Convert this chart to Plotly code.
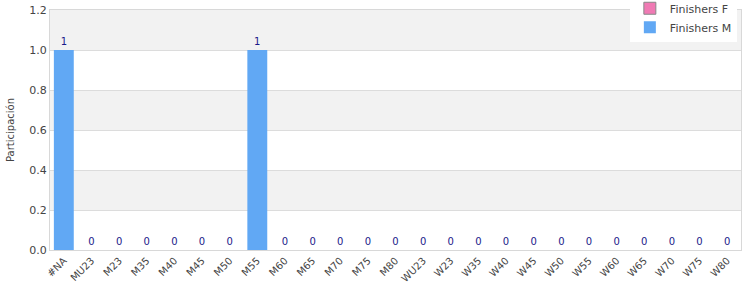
import plotly.graph_objects as go

categories = ["#NA", "MU23", "M23", "M35", "M40", "M45", "M50", "M55", "M60", "M65",
              "M70", "M75", "M80", "WU23", "W23", "W35", "W40", "W45", "W50", "W55",
              "W60", "W65", "W70", "W75", "W80"]
finishers_m = [1, 0, 0, 0, 0, 0, 0, 1, 0, 0, 0, 0, 0, 0, 0, 0, 0, 0, 0, 0, 0, 0, 0, 0, 0]
finishers_f = [None] * len(categories)

y_ticks = [0.0, 0.2, 0.4, 0.6, 0.8, 1.0, 1.2]

fig = go.Figure()
fig.add_trace(go.Bar(
    x=categories, y=finishers_f, name="Finishers F",
    marker=dict(color="#f07ab4", line=dict(color="#888888", width=1)),
))
fig.add_trace(go.Bar(
    x=categories, y=finishers_m, name="Finishers M",
    marker=dict(color="#61a8f4", line=dict(width=0)),
    text=[str(v) for v in finishers_m], textposition="outside",
    textfont=dict(color="#1a1a8a", size=10, family="DejaVu Sans"),
    cliponaxis=False, width=0.72,
))

shapes = []
for i in range(len(y_ticks) - 1):
    if i % 2 == 1:
        shapes.append(dict(type="rect", xref="paper", yref="y", x0=0, x1=1,
                           y0=y_ticks[i], y1=y_ticks[i + 1],
                           fillcolor="#f2f2f2", line=dict(width=0), layer="below"))

fig.update_layout(
    width=750, height=300,
    margin=dict(l=50, r=9, t=0, b=50, autoexpand=False),
    paper_bgcolor="white", plot_bgcolor="white",
    font=dict(family="DejaVu Sans", size=11, color="#444444"),
    barmode="overlay",
    shapes=shapes,
    showlegend=True,
    legend=dict(x=0.994, xanchor="right", y=1.025, yanchor="top",
                bgcolor="white", font=dict(size=11, color="#444444"),
                tracegroupgap=0, itemwidth=30),
    xaxis=dict(tickangle=-45, tickfont=dict(size=10, color="#444444"),
               showline=True, mirror=True, linecolor="#d8d8d8", linewidth=1,
               showgrid=False, ticks=""),
    yaxis=dict(range=[0, 1.2], tickvals=y_ticks, tickformat=".1f", domain=[0, 0.96],
               tickfont=dict(size=11, color="#444444"),
               showgrid=True, gridcolor="#dcdcdc", gridwidth=1,
               showline=True, mirror=True, linecolor="#d8d8d8", linewidth=1,
               zeroline=False, ticks="",
               title=dict(text="Participación", font=dict(size=10, color="#444444"), standoff=12)),
)

fig.write_html("out.html")
